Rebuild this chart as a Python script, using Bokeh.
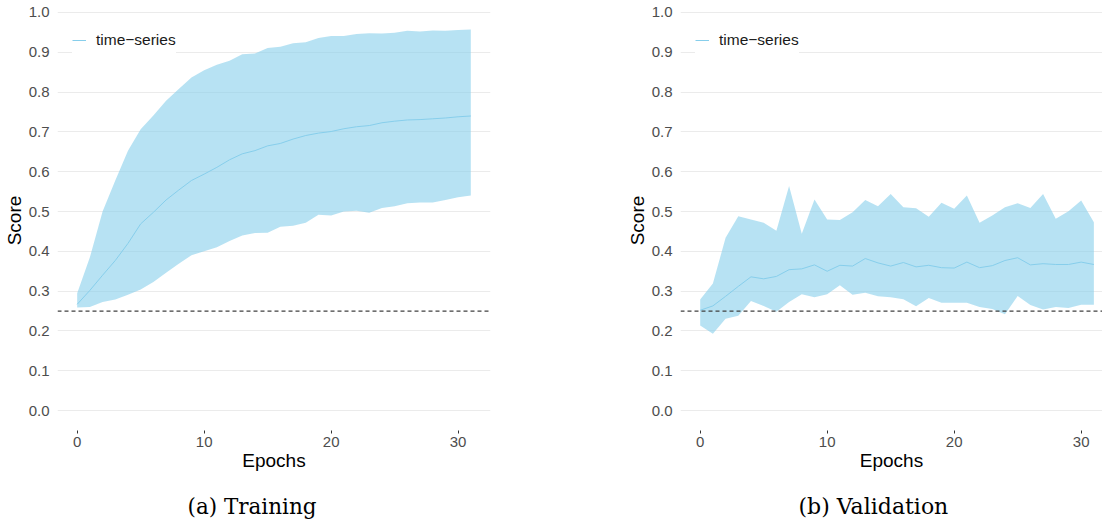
from bokeh.plotting import figure
from bokeh.models import (FixedTicker, PrintfTickFormatter, Span, Legend, LegendItem,
                          Title, ColumnDataSource, Range1d)
from bokeh.layouts import row
from bokeh.embed import file_html
from bokeh.resources import INLINE

epochs = list(range(32))

train_upper = [0.295, 0.385, 0.500, 0.578, 0.653, 0.707, 0.741, 0.778, 0.808, 0.837,
               0.855, 0.869, 0.879, 0.895, 0.897, 0.911, 0.914, 0.923, 0.925, 0.936,
               0.941, 0.941, 0.946, 0.948, 0.947, 0.949, 0.954, 0.952, 0.955, 0.954,
               0.956, 0.957]
train_mean = [0.267, 0.302, 0.340, 0.377, 0.420, 0.469, 0.498, 0.529, 0.554, 0.578,
              0.594, 0.611, 0.630, 0.645, 0.653, 0.665, 0.671, 0.682, 0.691, 0.697,
              0.701, 0.708, 0.713, 0.716, 0.723, 0.727, 0.730, 0.731, 0.733, 0.735,
              0.738, 0.740]
train_lower = [0.259, 0.260, 0.273, 0.279, 0.291, 0.304, 0.323, 0.346, 0.369, 0.390,
               0.400, 0.410, 0.426, 0.440, 0.446, 0.447, 0.462, 0.464, 0.472, 0.492,
               0.490, 0.500, 0.502, 0.497, 0.509, 0.513, 0.521, 0.523, 0.523, 0.529,
               0.536, 0.540]

val_upper = [0.279, 0.319, 0.434, 0.488, 0.480, 0.472, 0.452, 0.564, 0.444, 0.530,
             0.480, 0.479, 0.498, 0.529, 0.513, 0.544, 0.511, 0.508, 0.487, 0.522,
             0.507, 0.540, 0.472, 0.490, 0.511, 0.521, 0.509, 0.544, 0.482, 0.501,
             0.528, 0.473]
val_mean = [0.252, 0.263, 0.287, 0.312, 0.336, 0.331, 0.337, 0.354, 0.356, 0.366,
            0.350, 0.365, 0.363, 0.382, 0.371, 0.363, 0.372, 0.361, 0.365, 0.359,
            0.358, 0.373, 0.359, 0.364, 0.377, 0.384, 0.366, 0.369, 0.367, 0.367,
            0.373, 0.367]
val_lower = [0.214, 0.193, 0.231, 0.238, 0.275, 0.263, 0.248, 0.273, 0.292, 0.285,
             0.292, 0.315, 0.291, 0.296, 0.287, 0.285, 0.280, 0.262, 0.283, 0.271,
             0.271, 0.271, 0.260, 0.255, 0.242, 0.288, 0.265, 0.254, 0.260, 0.258,
             0.266, 0.266]

y_ticks = [0.0, 0.1, 0.2, 0.3, 0.4, 0.5, 0.6, 0.7, 0.8, 0.9, 1.0]
x_ticks = [0, 10, 20, 30]
chance_level = 0.25
series_name = "time\u2212series"
x_title = "Epochs"
y_title = "Score"
captions = ["(a) Training", "(b) Validation"]

SANS = "Liberation Sans"
SERIF = "DejaVu Serif"
COLOR = "#87CEEB"


def make_panel(upper, mean, lower, caption, frame_w, border_right, x_end,
               caption_offset, caption_size):
    p = figure(frame_width=frame_w, frame_height=420, output_backend="svg",
               toolbar_location=None,
               x_range=Range1d(-1.55, x_end), y_range=Range1d(-0.05, 1.005),
               min_border_left=49, min_border_right=border_right,
               min_border_top=10, min_border_bottom=83)
    p.outline_line_color = None
    p.background_fill_color = "white"
    p.border_fill_color = "white"

    src = ColumnDataSource(dict(x=epochs, upper=upper, mean=mean, lower=lower))
    p.varea(x="x", y1="lower", y2="upper", source=src, fill_color=COLOR, fill_alpha=0.6)
    ln = p.line(x="x", y="mean", source=src, line_color=COLOR, line_width=1)

    p.add_layout(Span(location=chance_level, dimension="width", line_color="#404040",
                      line_width=1.2, line_dash="4 3"))

    p.xgrid.visible = False
    p.ygrid.grid_line_color = "#ebebeb"
    p.ygrid.grid_line_width = 1
    p.ygrid.ticker = FixedTicker(ticks=y_ticks)

    p.yaxis.ticker = FixedTicker(ticks=y_ticks)
    p.yaxis.formatter = PrintfTickFormatter(format="%.1f")
    p.xaxis.ticker = FixedTicker(ticks=x_ticks)
    for ax in (p.xaxis[0], p.yaxis[0]):
        ax.axis_line_color = None
        ax.minor_tick_line_color = None
        ax.major_label_text_font = SANS
        ax.major_label_text_font_size = "15px"
        ax.major_label_text_color = "#4d4d4d"
        ax.axis_label_text_font = SANS
        ax.axis_label_text_font_size = "19px"
        ax.axis_label_text_font_style = "normal"
        ax.axis_label_text_color = "black"
    p.yaxis.major_tick_line_color = None
    p.yaxis.major_label_standoff = 2
    p.yaxis.axis_label_standoff = 1
    p.xaxis.major_tick_line_color = "#333333"
    p.xaxis.major_tick_out = 3
    p.xaxis.major_tick_in = 0
    p.xaxis.major_label_standoff = 3
    p.xaxis.axis_label_standoff = 0
    p.xaxis.axis_label = x_title
    p.yaxis.axis_label = y_title

    legend = Legend(items=[LegendItem(label=series_name, renderers=[ln])],
                    location=(15, 377), padding=0, margin=0, glyph_width=14,
                    glyph_height=26, label_standoff=10, border_line_color=None,
                    background_fill_color="white", background_fill_alpha=1.0,
                    label_text_font=SANS, label_text_font_size="15.5px",
                    label_text_color="#1a1a1a")
    p.add_layout(legend)

    p.add_layout(Title(text=caption, align="left", offset=caption_offset,
                       text_font=SERIF, text_font_size=caption_size,
                       text_font_style="normal", text_color="black", standoff=37),
                 "below")
    return p


p1 = make_panel(train_upper, train_mean, train_lower, captions[0], 433, 133, 32.55,
                130, "21.5px")
p2 = make_panel(val_upper, val_mean, val_lower, captions[1], 422, 0, 31.68,
                118, "22px")

layout = row(p1, p2)
open("out.html", "w").write(file_html(layout, INLINE))
